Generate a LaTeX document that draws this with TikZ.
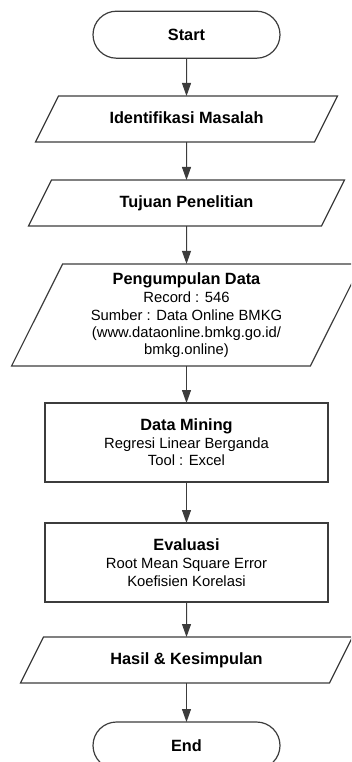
\documentclass[tikz,border=0pt]{standalone}
\usepackage{fontspec}
\setmainfont{Liberation Sans}
\usepackage{tikz}
\usetikzlibrary{arrows.meta,shapes.geometric}
\definecolor{linegray}{RGB}{60,60,60}
\newcommand{\judul}[1]{{\fontsize{16.3}{19}\selectfont\bfseries #1}}

\begin{document}
\begin{tikzpicture}[x=1pt,y=-1pt,
  terminal/.style={draw=linegray,line width=1.2pt,rounded corners=23.5pt,minimum width=187pt,minimum height=47pt,inner sep=0pt,outer sep=0pt,font=\fontsize{16.3}{19}\selectfont\bfseries},
  process/.style={draw=linegray,line width=1.2pt,minimum width=283pt,minimum height=79pt,inner sep=0pt,outer sep=0pt,align=center,font=\fontsize{14.8}{17.5}\selectfont},
  dataio/.style={draw=linegray,line width=1.2pt,trapezium,trapezium left angle=63.4,trapezium right angle=116.6,trapezium stretches body,inner xsep=0pt,outer sep=0pt,align=center,font=\fontsize{14.8}{17.2}\selectfont},
  dataone/.style={dataio,text height=11.7pt,text depth=3.4pt,inner ysep=15.45pt},
  flow/.style={draw=linegray,line width=1pt,-{Triangle[length=13pt,width=9pt]}}]
\clip (0,0) rectangle (351,762);

% Start
\node[terminal] (start) at (186.5,34.7) {Start};

% Identifikasi & Tujuan
\node[dataone,minimum width=302pt] (ident) at (186.5,119) {\judul{Identifikasi Masalah}};
\node[dataone,minimum width=316pt] (tujuan) at (186.5,203) {\judul{Tujuan Penelitian}};

% Pengumpulan Data
\node[dataio,minimum width=350pt,inner ysep=8.5pt] (kumpul) at (186.5,315) {\judul{Pengumpulan Data}\\[1.5pt] Record : 546\\ Sumber : Data Online BMKG\\ (www.dataonline.bmkg.go.id/\\ bmkg.online)};

% Data Mining & Evaluasi
\node[process] (mining) at (186.5,442.5) {\judul{Data Mining}\\ Regresi Linear Berganda\\ Tool : Excel};
\node[process] (evaluasi) at (186.5,562.5) {\judul{Evaluasi}\\[1pt] Root Mean Square Error\\ Koefisien Korelasi};

% Hasil & End
\node[dataone,minimum width=332pt] (hasil) at (186.5,660) {\judul{Hasil \& Kesimpulan}};
\node[terminal] (end) at (186.5,745.5) {End};

% Arrows
\draw[flow] (start) -- (ident);
\draw[flow] (ident) -- (tujuan);
\draw[flow] (tujuan) -- (kumpul);
\draw[flow] (kumpul) -- (mining);
\draw[flow] (mining) -- (evaluasi);
\draw[flow] (evaluasi) -- (hasil);
\draw[flow] (hasil) -- (end);
\end{tikzpicture}
\end{document}
